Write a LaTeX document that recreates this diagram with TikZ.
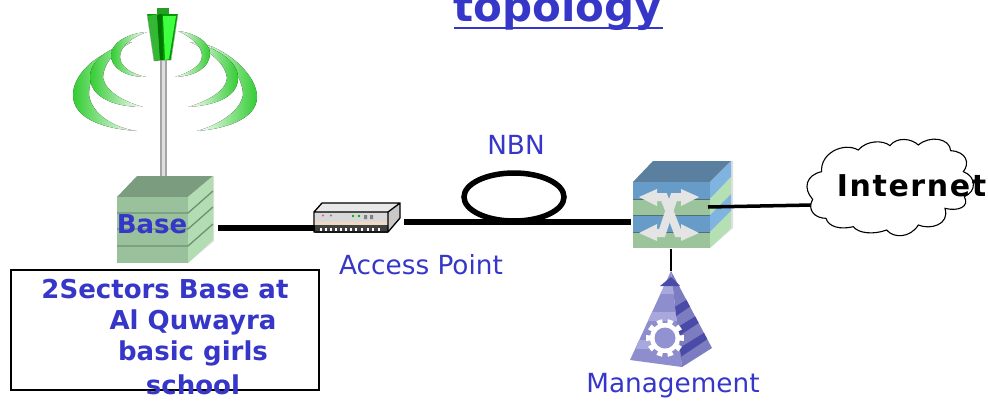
\documentclass[tikz,border=0pt]{standalone}
\usepackage{fontspec}
\setmainfont{DejaVu Sans}
\usetikzlibrary{calc}
\definecolor{ink}{HTML}{3636C8}
\definecolor{grn}{HTML}{33CC33}
\definecolor{baseTop}{HTML}{7C9C80}
\definecolor{baseFront}{HTML}{99C19C}
\definecolor{baseSide}{HTML}{B2DCB2}
\definecolor{baseLine}{HTML}{6F9073}
\definecolor{apSide}{HTML}{C8C8C8}
\definecolor{apTop}{HTML}{E8E8E8}
\definecolor{apFront}{HTML}{D8D8D8}
\definecolor{apBand}{HTML}{F2D8C0}
\definecolor{swTop}{HTML}{5B7F9F}
\definecolor{swBlue}{HTML}{689CC8}
\definecolor{swGreen}{HTML}{9CC49C}
\definecolor{swBlueS}{HTML}{80B4E0}
\definecolor{swGreenS}{HTML}{B4E0B4}
\definecolor{swLine}{HTML}{557070}
\definecolor{swArrow}{HTML}{E4E4E4}
\definecolor{pyrL}{HTML}{8E8ECE}
\definecolor{pyrR}{HTML}{7C7CC0}
\definecolor{pyrLight}{HTML}{A8A8DC}
\definecolor{pyrDark}{HTML}{4A4AA8}
\definecolor{pyrHole}{HTML}{9292D2}
\tikzset{
  lab/.style={text=ink,font=\fontsize{26.3}{30}\selectfont,inner sep=0pt,anchor=center},
  blab/.style={text=ink,font=\fontsize{26}{30}\selectfont\bfseries,inner sep=0pt,anchor=center},
  thick line/.style={draw=black,line width=5.5pt},
  mid line/.style={draw=black,line width=3.5pt},
  thin line/.style={draw=black,line width=2pt},
  anchorbox/.style={inner sep=0pt,minimum width=#1,minimum height=10pt},
  wave/.style={draw=none,left color=grn,middle color=grn!88!white,right color=white},
  waveR/.style={draw=none,right color=grn,middle color=grn!88!white,left color=white},
}
\begin{document}
\begin{tikzpicture}[x=1pt,y=-1pt]
\useasboundingbox (0,0) rectangle (988,402);
\clip (0,0) rectangle (988,402);

% title
\node[text=ink,font=\fontsize{42}{46}\selectfont\bfseries,inner sep=0pt,anchor=base] (title) at (558,21) {topology};
\draw[ink,line width=2.5pt] (title.base west)++(0,7) -- ++(209,0);

% waves
\fill[wave] (137,131) .. controls (95,128) and (73,115) .. (73,95) .. controls (73,75) and (95,55) .. (117,49) .. controls (98,60) and (89,78) .. (89,95) .. controls (92,115) and (115,128) .. (137,131) -- cycle;
\fill[wave] (143,107) .. controls (110,107) and (90,95) .. (90,77) .. controls (90,60) and (110,47) .. (132,42) .. controls (112,52) and (103,66) .. (103,78) .. controls (106,92) and (125,102) .. (143,107) -- cycle;
\fill[wave] (146,77) .. controls (125,77) and (111,68) .. (111,55) .. controls (111,43) and (128,33) .. (147,32) .. controls (130,38) and (120,47) .. (120,57) .. controls (120,67) and (132,74) .. (146,77) -- cycle;
\fill[waveR] (197,131) .. controls (235,128) and (257,115) .. (257,97) .. controls (257,78) and (235,55) .. (208,45) .. controls (228,58) and (243,78) .. (243,95) .. controls (240,112) and (218,125) .. (197,131) -- cycle;
\fill[waveR] (188,107) .. controls (220,105) and (238,95) .. (238,78) .. controls (238,60) and (215,47) .. (190,42) .. controls (212,52) and (226,65) .. (227,78) .. controls (226,92) and (205,102) .. (188,107) -- cycle;
\fill[waveR] (175,77) .. controls (195,76) and (210,68) .. (210,53) .. controls (210,42) and (195,33) .. (178,31) .. controls (193,38) and (202,47) .. (202,56) .. controls (202,66) and (188,73) .. (175,77) -- cycle;

% mast
\fill[gray!70] (160,58) rectangle (167,178);
\fill[gray!25] (162,58) rectangle (165,178);
% antenna head
\fill[green!55!black!85] (157,8) rectangle (169,15);
\fill[green!60!black] (147,14) -- (178,14) -- (171,60) -- (154,61) -- cycle;
\fill[green!65!black!80!white] (148,16) -- (158,14) -- (160,60) -- (154,60) -- cycle;
\fill[green!75!white] (163,16) -- (176,16) -- (169,59) -- (165,60) -- cycle;
\fill[green!45!black] (157,15) -- (162,14) -- (163,60) -- (160,60) -- cycle;
\draw[gray!60,line width=.5pt] (147,14) -- (154,61) -- (171,60) -- (178,14);

% base box
\node[anchorbox=71pt,minimum height=66pt] (base) at (152.5,230) {};
\fill[gray!25] (188,263) -- (214,241) -- (214,176) -- (212,176) -- (188,197) -- cycle;
\fill[baseTop] (117,197) -- (137,176) -- (213,176) -- (188,197) -- cycle;
\fill[baseFront] (117,197) rectangle (188,263);
\fill[baseSide] (188,197) -- (213,176) -- (213,240) -- (188,263) -- cycle;
\foreach \y in {213,229,246}{
  \draw[baseLine,line width=1.3pt] (117,\y) -- (188,\y) -- (213,\y-22);
}
\node[blab] at (152,224) {Base};

% connector ends
\coordinate (baseR) at (218,228);
\coordinate (apL) at (315,228);
\coordinate (apR) at (404,222);
\coordinate (swL) at (631,222);
\coordinate (swR) at (708,207);
\coordinate (cloudL) at (812,205);
\coordinate (swB) at (671,249);
\coordinate (pyrT) at (671,271);
\draw[thick line] (baseR) -- (apL);
\draw[thick line] (apR) -- (swL);

% access point
\node[anchorbox=88pt,minimum height=30pt] (ap) at (358,218) {};
\fill[apSide] (322,203) -- (400,203) -- (400,218) -- (388,232) -- (388,212) -- (314,212) -- cycle;
\fill[apTop] (322,203) -- (400,203) -- (388,212) -- (314,212) -- cycle;
\fill[apFront] (315,212) rectangle (388,222);
\fill[apBand] (315,222) rectangle (388,225);
\fill[black!75] (315,225) rectangle (388,233);
\foreach \x in {320,325,330,335,340,345,350,355,361,367,372,378}{\fill[white] (\x,228) rectangle (\x+2,231);}
\draw[black,line width=1.3pt] (314,212) -- (322,203) -- (400,203) -- (400,218) -- (388,232) -- (314,232) -- cycle (314,212) -- (388,212) -- (388,232) (388,212) -- (400,203);
\fill[red!70] (323,215.5) circle (1.2);
\fill[gray] (331,215.5) circle (1.2);
\fill[green!70!black] (353,216) circle (1.3) (359,216) circle (1.3);
\fill[gray] (364,215) rectangle (367,219) (370,215) rectangle (373,219);

% NBN loop
\draw[thick line] (514,197) ellipse [x radius=50,y radius=24];
\node[lab] (nbn) at (516,145) {NBN};
\node[lab] (aplab) at (421,265) {Access Point};

% switch
\node[anchorbox=77pt,minimum height=66pt] (sw) at (671.5,215) {};
\fill[gray!25] (710,248) -- (733,228) -- (733,161) -- (731,161) -- (710,182) -- cycle;
\fill[swTop] (633,182) -- (653,161) -- (731,161) -- (710,182) -- cycle;
\fill[swBlue] (633,182) rectangle (710,199);
\fill[swGreen] (633,199) rectangle (710,215);
\fill[swBlue] (633,215) rectangle (710,232);
\fill[swGreen] (633,232) rectangle (710,248);
\fill[swBlueS] (710,182) -- (731,161) -- (731,177) -- (710,199) -- cycle;
\fill[swGreenS] (710,199) -- (731,177) -- (731,194) -- (710,215) -- cycle;
\fill[swBlueS] (710,215) -- (731,194) -- (731,211) -- (710,232) -- cycle;
\fill[swGreenS] (710,232) -- (731,211) -- (731,228) -- (710,248) -- cycle;
\foreach \y in {199,215,232}{\draw[swLine,line width=1pt] (633,\y) -- (710,\y);}
% switch arrows
\fill[swArrow] (639,197) -- (657,189) -- (657,206) -- cycle;
\fill[swArrow] (699,197) -- (681,189) -- (681,206) -- cycle;
\fill[swArrow] (639,233) -- (657,224) -- (657,241) -- cycle;
\fill[swArrow] (699,233) -- (681,224) -- (681,241) -- cycle;
\draw[swArrow,line width=8pt] (655,197) -- (664,197) -- (678,233) -- (683,233);
\draw[swArrow,line width=8pt] (683,197) -- (674,197) -- (662,233) -- (655,233);

\draw[mid line] (swR) -- (cloudL);
\draw[thin line] (swB) -- (pyrT);

% pyramid
\node[anchorbox=82pt,minimum height=96pt] (pyr) at (671,319) {};
\fill[pyrL] (671,271) -- (630,360) -- (682,367) -- cycle;
\fill[pyrR] (671,271) -- (682,367) -- (712,348) -- cycle;
\begin{scope}
\clip (671,271) -- (630,360) -- (682,367) -- cycle;
\foreach \y in {285,312,340}{\fill[pyrLight] (620,\y) rectangle (690,\y+9);}
\end{scope}
\begin{scope}
\clip (671,271) -- (682,367) -- (712,348) -- cycle;
\foreach \y in {296,318,340}{\fill[pyrDark] (670,\y+14) -- (715,\y-14) -- (715,\y-6) -- (670,\y+24) -- cycle;}
\end{scope}
\fill[pyrDark] (660,286) -- (671,277) -- (680,286) -- cycle;
\foreach \a in {0,36,...,324}{
  \fill[white] ($(665,338)+(\a-10:12)$) -- ($(665,338)+(\a-9:19)$) -- ($(665,338)+(\a+9:19)$) -- ($(665,338)+(\a+10:12)$) -- cycle;
}
\fill[white] (665,338) circle (15);
\fill[pyrHole] (665,338) circle (10.5);
\node[lab] (mgmt) at (673,386) {Management};

% cloud
\begin{scope}[shift={(790,130)},x=.3333pt,y=-.3333pt]
\draw[black,line width=1.1pt,fill=white]
 (68,208) .. controls (38,175) and (48,135) .. (95,125)
 .. controls (90,70) and (160,35) .. (205,60)
 .. controls (230,30) and (280,30) .. (300,47)
 .. controls (320,20) and (365,25) .. (385,45)
 .. controls (420,15) and (480,25) .. (482,62)
 .. controls (530,65) and (540,100) .. (520,125)
 .. controls (560,140) and (560,185) .. (523,200)
 .. controls (540,230) and (505,245) .. (465,235)
 .. controls (480,285) and (420,300) .. (385,285)
 .. controls (360,325) and (310,325) .. (290,300)
 .. controls (250,315) and (205,310) .. (190,290)
 .. controls (150,300) and (115,290) .. (108,265)
 .. controls (75,265) and (50,240) .. (68,208) -- cycle;
\end{scope}
\node[text=black,font=\fontsize{30}{32}\selectfont\bfseries,inner sep=0pt,anchor=center] (internet) at (911.5,186) {I\kern1.6pt n\kern1.6pt t\kern1.6pt e\kern1.6pt r\kern1.6pt n\kern1.6pt e\kern1.6pt t};

% site label box
\node[draw=black,line width=2pt,fill=white,minimum width=308pt,minimum height=120pt,inner sep=0pt] (site) at (165,329.5) {};
\node[blab] at (165,289) {2Sectors Base at};
\node[blab] at (193,322) {Al Quwayra};
\node[blab] at (193,353) {basic girls};
\node[blab] at (193,385) {school};
\end{tikzpicture}
\end{document}
